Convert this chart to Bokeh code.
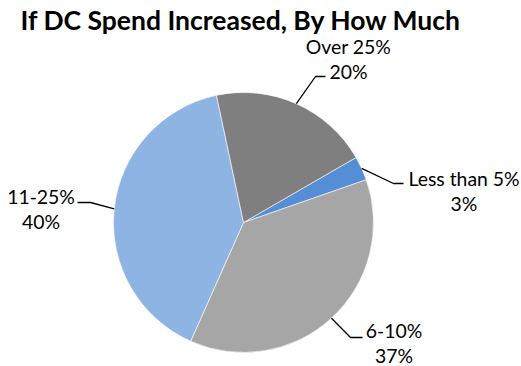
import numpy as np
from bokeh.plotting import figure
from bokeh.models import Range1d, ColumnDataSource
from bokeh.core.properties import value
from bokeh.embed import file_html
from bokeh.resources import INLINE

# ---- data ----
categories = ["Less than 5%", "6-10%", "11-25%", "Over 25%"]
shares = [3, 37, 40, 20]
pct_labels = ["3%", "37%", "40%", "20%"]
title_text = "If DC Spend Increased, By How Much"

# ---- style / layout ----
colors = ["#558ED5", "#A6A6A6", "#8EB4E3", "#7F7F7F"]
first_slice_deg = 60.0          # clockwise from 12 o'clock
W, H = 521, 366
MARGIN = 0

def dx(sx):  # page pixel -> data x
    return sx - MARGIN

def dy(sy):  # page pixel -> data y
    return H + MARGIN - sy

cx, cy, R = dx(243), dy(222), 130
# label layout (page px): label centre x, first line y, elbow x, elbow y, end x
label_layout = {
    "Less than 5%": (463.5, 178, 393, 183, 403),
    "6-10%": (393.5, 330, 350, 337, 362),
    "11-25%": (40.5, 196, 90, 202, 77),
    "Over 25%": (348, 46, 315, 76, 325),
}
LINE_GAP = 25

p = figure(width=W, height=H, output_backend="svg", toolbar_location=None,
           x_range=Range1d(0, W), y_range=Range1d(0, H),
           x_axis_type=None, y_axis_type=None, min_border=0,
           outline_line_color=None, background_fill_color="white",
           border_fill_color="white")
p.grid.visible = False

fr = np.array(shares, dtype=float) / sum(shares)
clock_end = first_slice_deg + np.cumsum(fr) * 360.0
clock_start = clock_end - fr * 360.0
start_rad = np.deg2rad(90.0 - clock_start)
end_rad = np.deg2rad(90.0 - clock_end)

src = ColumnDataSource(dict(cat=categories, start=start_rad, end=end_rad, color=colors))
p.wedge(x=cx, y=cy, radius=R, start_angle="start", end_angle="end",
        direction="clock", fill_color="color", line_color="white",
        line_width=0.6, source=src)

font = "Lato"
for i, cat in enumerate(categories):
    mid = np.deg2rad(90.0 - (clock_start[i] + clock_end[i]) / 2.0)
    x0 = cx + R * np.cos(mid)
    y0 = cy + R * np.sin(mid)
    lx, ly, ex, ey, endx = label_layout[cat]
    p.line(x=[x0, dx(ex), dx(endx)], y=[y0, dy(ey), dy(ey)],
           line_color="black", line_width=1.3)
    p.text(x=[dx(lx), dx(lx)], y=[dy(ly), dy(ly + LINE_GAP)],
           text=[cat, pct_labels[i]], text_align="center",
           text_baseline="middle", text_font=value(font),
           text_font_size="19.4px", text_color="black")

p.text(x=[dx(20)], y=[dy(19)], text=[title_text], text_align="left",
       text_baseline="middle", text_font=value(font), text_font_style="bold",
       text_font_size="26.5px", text_color="black")

open("out.html", "w").write(file_html(p, INLINE))
